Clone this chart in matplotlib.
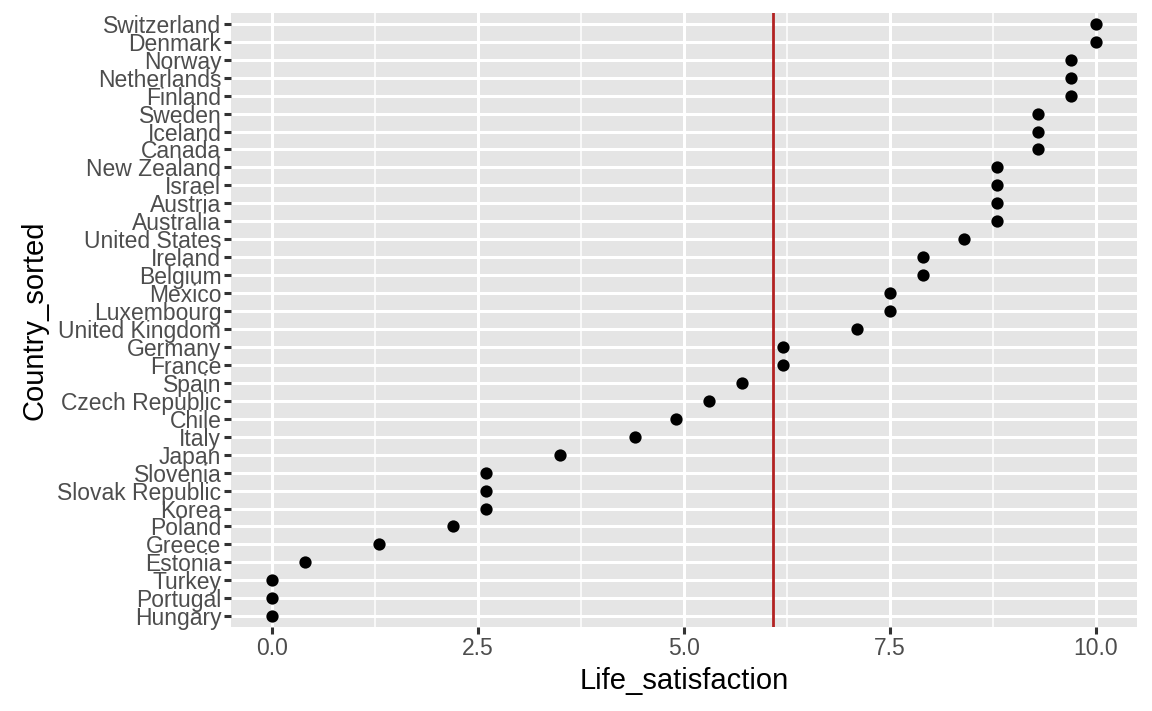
import matplotlib.pyplot as plt
from matplotlib.ticker import MultipleLocator

countries = ["Switzerland", "Denmark", "Norway", "Netherlands", "Finland", "Sweden",
             "Iceland", "Canada", "New Zealand", "Israel", "Austria", "Australia",
             "United States", "Ireland", "Belgium", "Mexico", "Luxembourg",
             "United Kingdom", "Germany", "France", "Spain", "Czech Republic", "Chile",
             "Italy", "Japan", "Slovenia", "Slovak Republic", "Korea", "Poland",
             "Greece", "Estonia", "Turkey", "Portugal", "Hungary"]
life_satisfaction = [10.0, 10.0, 9.7, 9.7, 9.7, 9.3, 9.3, 9.3, 8.8, 8.8, 8.8, 8.8,
                     8.4, 7.9, 7.9, 7.5, 7.5, 7.1, 6.2, 6.2, 5.7, 5.3, 4.9, 4.4, 3.5,
                     2.6, 2.6, 2.6, 2.2, 1.3, 0.4, 0.0, 0.0, 0.0]
ref_line = 6.08

plt.rcParams['font.family'] = ['Liberation Sans', 'DejaVu Sans']

fig = plt.figure(figsize=(11.52, 7.11), dpi=100)
ax = fig.add_axes([0.2005, 0.1181, 0.7865, 0.8636])
ax.set_facecolor("#e5e5e5")

n = len(countries)
ypos = list(range(n - 1, -1, -1))

ax.set_xlim(-0.5, 10.5)
ax.set_ylim(-0.6, n - 1 + 0.6)
ax.xaxis.set_major_locator(MultipleLocator(2.5))
ax.xaxis.set_minor_locator(MultipleLocator(1.25))
ax.set_yticks(ypos)
ax.set_yticklabels(countries)
ax.set_xticks([0, 2.5, 5, 7.5, 10])
ax.set_xticklabels(["0.0", "2.5", "5.0", "7.5", "10.0"])

ax.grid(which="major", color="white", linewidth=2.2)
ax.grid(which="minor", axis="x", color="white", linewidth=1.1)
ax.set_axisbelow(True)
for s in ax.spines.values():
    s.set_visible(False)
ax.tick_params(which="major", length=5, width=2.2, color="#333333",
               labelsize=16.5, labelcolor="#4d4d4d", pad=2)
ax.tick_params(which="minor", length=0)

ax.scatter(life_satisfaction, ypos, s=78, color="black", zorder=3, linewidths=0)
ax.axvline(ref_line, color="#b22222", linewidth=2, zorder=2)

ax.set_xlabel("Life_satisfaction", fontsize=21, labelpad=5)
ax.set_ylabel("Country_sorted", fontsize=21, labelpad=6)

fig.savefig("out.png", dpi=100)
